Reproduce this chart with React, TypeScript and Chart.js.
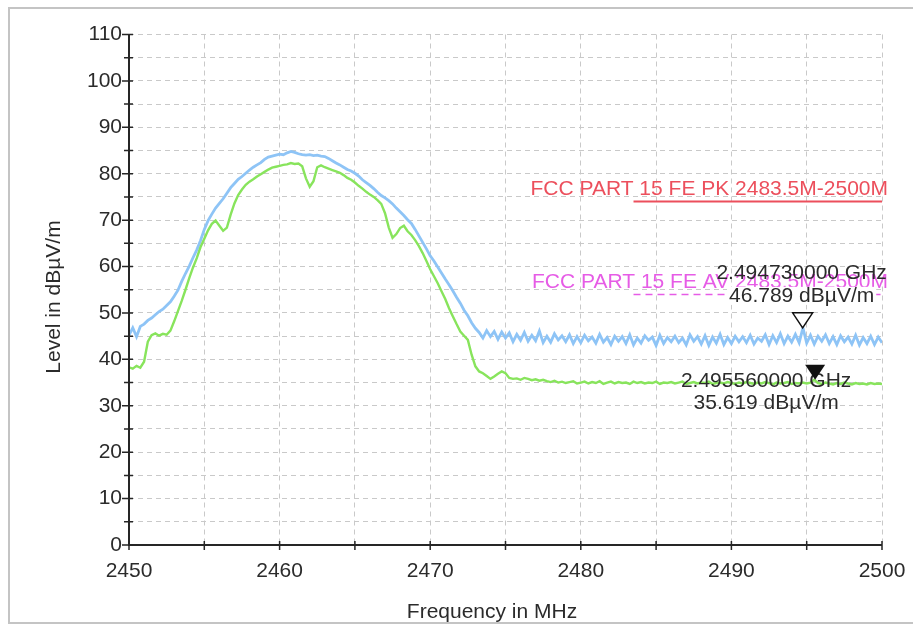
import { useEffect, useRef } from "react";
import { Chart, registerables } from "chart.js";
Chart.register(...registerables);

// Sweep: 2450 MHz to 2500 MHz, 0.25 MHz per point
const FREQ_START = 2450;
const FREQ_STEP = 0.25;

const peakLevels = [
  45.2, 46.8, 44.9, 47.1, 47.6, 48.4, 48.9, 49.6, 50.3, 50.8, 51.6, 52.4, 53.6, 54.9, 56.8, 58.5, 60.1, 61.9, 63.6, 65.6,
  68.0, 69.9, 71.3, 72.6, 73.6, 74.6, 75.8, 77.0, 77.9, 78.8, 79.4, 80.1, 80.8, 81.4, 81.9, 82.4, 83.1, 83.6, 83.8, 84.0,
  84.2, 84.1, 84.5, 84.8, 84.6, 84.3, 84.1, 84.0, 84.1, 83.9, 84.0, 83.8, 83.7, 83.3, 82.8, 82.3, 81.9, 81.4, 80.9, 80.6,
  80.1, 79.5, 78.7, 78.1, 77.5, 76.8, 76.0, 75.3, 74.8, 74.2, 73.5, 72.6, 71.8, 71.0, 70.1, 69.3, 68.0, 66.6, 65.2, 63.8,
  62.3, 61.2, 59.9, 58.6, 57.3, 56.1, 54.8, 53.4, 52.1, 50.6, 49.4, 47.9, 46.7, 45.8, 44.6, 46.2, 44.9, 46.0, 44.3, 45.9,
  44.6, 45.7, 43.8, 45.4, 44.1, 45.8, 43.9, 45.2, 44.0, 46.1, 43.6, 45.0, 43.7, 45.5, 44.2, 45.1, 43.8, 45.3, 43.4, 44.9,
  43.6, 45.2, 44.0, 44.8, 43.5, 45.4, 43.7, 44.7, 43.2, 45.0, 43.9, 44.9, 43.4, 45.3, 43.1, 44.6, 43.5, 45.1, 44.1, 44.8,
  43.0, 45.2, 43.4, 44.7, 43.8, 45.0, 43.6, 44.6, 43.1, 45.3, 43.9, 44.9, 43.3, 45.1, 43.0, 44.8, 43.5, 45.4, 43.2, 44.7,
  43.4, 45.0, 43.8, 44.9, 43.6, 45.2, 43.3, 44.6, 43.9, 45.3, 43.2, 45.1, 43.6, 45.5, 43.4, 45.0, 43.7, 45.4, 43.6, 46.8,
  43.5, 45.2, 43.3, 45.0, 43.9, 45.3, 43.4, 44.9, 43.2, 45.1, 43.8, 44.8, 43.3, 45.2, 43.1, 44.7, 43.4, 45.0, 43.2, 44.8, 43.6,
];

const avgLevels = [
  38.3, 38.0, 38.6, 38.2, 39.5, 43.8, 45.2, 45.6, 45.1, 45.5, 45.3, 46.2, 48.2, 50.4, 52.6, 55.0, 57.5, 59.8, 61.8, 64.2,
  66.0, 67.8, 69.2, 69.9, 68.8, 67.7, 68.4, 71.2, 73.6, 75.4, 76.6, 77.6, 78.3, 78.8, 79.4, 79.9, 80.4, 80.9, 81.3, 81.5,
  81.7, 81.9, 82.0, 82.3, 82.1, 82.2, 81.6, 79.0, 77.2, 78.4, 81.4, 81.8, 81.4, 81.1, 80.8, 80.5, 80.2, 79.7, 79.1, 78.7,
  78.1, 77.4, 76.8, 76.1, 75.5, 75.0, 74.3, 73.5, 71.5, 68.4, 66.2, 67.0, 68.3, 68.8, 67.6, 66.8, 65.7, 64.4, 62.9, 61.2,
  59.4, 57.9, 56.4, 54.7, 53.0, 51.0, 49.3, 47.6, 46.0, 45.1, 44.2, 41.0, 38.5, 37.4, 37.0, 36.4, 35.8, 36.3, 36.9, 37.4,
  37.0, 36.0, 35.8, 35.9, 35.6, 36.0, 35.8, 35.5, 35.7, 35.4, 35.6, 35.3, 35.1, 35.4, 35.0, 35.2, 34.9, 35.1, 35.3, 34.8,
  35.0, 35.2, 34.8, 35.1, 34.9, 35.3, 34.7, 35.0, 35.2, 34.8, 35.1, 34.9, 35.0, 34.7, 35.2, 34.9, 35.1, 34.8, 35.0, 34.9,
  35.2, 34.7, 35.0, 34.9, 35.1, 34.8, 35.0, 35.2, 34.7, 34.9, 35.1, 34.8, 35.0, 34.9, 35.2, 34.7, 34.9, 35.0, 34.8, 35.1,
  34.9, 34.7, 35.0, 34.8, 35.1, 34.9, 34.7, 35.0, 34.8, 35.1, 34.9, 34.6, 35.0, 34.8, 34.9, 35.1, 34.7, 34.9, 34.8, 35.0,
  34.8, 35.0, 35.6, 34.9, 34.7, 35.0, 34.8, 34.6, 34.9, 34.7, 35.0, 34.8, 34.6, 34.9, 34.7, 34.8, 34.6, 34.9, 34.7, 34.8, 34.7,
];

const limitNames = ["FCC PART 15 FE PK 2483.5M-2500M", "FCC PART 15 FE AV 2483.5M-2500M"];
const limitStart = [2483.5, 2483.5];
const limitEnd = [2500, 2500];
const limitLevels = [74, 54];

const markerFreqs = [2494.73, 2495.56];
const markerLevels = [46.789, 35.619];
const markerFilled = [false, true];

const X_MIN = 2450, X_MAX = 2500, X_STEP = 5;
const Y_MIN = 0, Y_MAX = 110, Y_STEP = 5;

const FONT = "'Liberation Sans', Arial, sans-serif";
const TEXT = "#2b2b2b";
const PEAK_COLOR = "#8ec4f6";
const AVG_COLOR = "#88e45c";
const PK_COLOR = "#ec4f5c";
const AV_COLOR = "#e65ce6";

export default function App() {
  const ref = useRef<HTMLCanvasElement | null>(null);
  useEffect(() => {
    if (!ref.current) return;
    const peakData = peakLevels.map((v, i) => ({ x: FREQ_START + i * FREQ_STEP, y: v }));
    const avgData = avgLevels.map((v, i) => ({ x: FREQ_START + i * FREQ_STEP, y: v }));

    const decor = {
      id: "decor",
      beforeDraw(chart: any) {
        const ctx = chart.ctx;
        ctx.save();
        ctx.strokeStyle = "#c4c4c4";
        ctx.lineWidth = 2;
        ctx.strokeRect(9, 8, 920, 615);
        ctx.restore();
      },
      afterDatasetsDraw(chart: any) {
        const ctx = chart.ctx;
        const xs = chart.scales.x, ys = chart.scales.y;
        const area = chart.chartArea;
        ctx.save();
        // limit labels
        ctx.font = `21px ${FONT}`;
        ctx.textAlign = "right";
        ctx.textBaseline = "middle";
        limitNames.forEach((name, i) => {
          ctx.fillStyle = i === 0 ? PK_COLOR : AV_COLOR;
          ctx.fillText(name, area.right + 6, ys.getPixelForValue(limitLevels[i]) - 12);
        });
        // markers
        markerFreqs.forEach((f, i) => {
          const mx = xs.getPixelForValue(f);
          const my = ys.getPixelForValue(markerLevels[i]);
          const l1 = (f / 1000).toFixed(9) + " GHz";
          const l2 = markerLevels[i].toFixed(3) + " dB\u00B5V/m";
          let cx: number, y1: number, y2: number;
          if (i === 0) { cx = mx - 1; y1 = my - 55; y2 = my - 32; }
          else { cx = mx - 49; y1 = my + 2; y2 = my + 24; }
          ctx.font = `21px ${FONT}`;
          ctx.textAlign = "center";
          ctx.textBaseline = "middle";
          if (i === 0) {
            const w = ctx.measureText(l2).width;
            ctx.fillStyle = "#ffffff";
            ctx.fillRect(cx - w / 2 - 2, y2 - 9, w + 4, 18);
          }
          ctx.fillStyle = TEXT;
          ctx.fillText(l1, cx, y1);
          ctx.fillText(l2, cx, y2);
          // triangle
          ctx.beginPath();
          ctx.moveTo(mx, my);
          ctx.lineTo(mx - 10, my - 15);
          ctx.lineTo(mx + 10, my - 15);
          ctx.closePath();
          if (markerFilled[i]) {
            ctx.fillStyle = "#111";
            ctx.fill();
          } else {
            ctx.fillStyle = "#fff";
            ctx.fill();
            ctx.strokeStyle = "#111";
            ctx.lineWidth = 1.5;
            ctx.stroke();
          }
        });
        // axes
        ctx.strokeStyle = "#262626";
        ctx.lineWidth = 2;
        ctx.beginPath();
        ctx.moveTo(area.left, area.top);
        ctx.lineTo(area.left, area.bottom);
        ctx.lineTo(area.right, area.bottom);
        ctx.stroke();
        ctx.lineWidth = 1.5;
        ctx.beginPath();
        for (let v = Y_MIN; v <= Y_MAX; v += Y_STEP) {
          const y = ys.getPixelForValue(v);
          const major = v % 10 === 0;
          ctx.moveTo(area.left - (major ? 7 : 5), y);
          ctx.lineTo(area.left + 4, y);
        }
        for (let v = X_MIN; v <= X_MAX; v += X_STEP) {
          const x = xs.getPixelForValue(v);
          ctx.moveTo(x, area.bottom - 4);
          ctx.lineTo(x, area.bottom + 5);
        }
        ctx.stroke();
        // titles
        ctx.fillStyle = TEXT;
        ctx.font = `21px ${FONT}`;
        ctx.textAlign = "center";
        ctx.textBaseline = "middle";
        ctx.fillText("Frequency in MHz", 492, 612);
        ctx.translate(54, 297);
        ctx.rotate(-Math.PI / 2);
        ctx.fillText("Level in dB\u00B5V/m", 0, 0);
        ctx.restore();
      },
    };

    const chart = new Chart(ref.current, {
      type: "line",
      data: {
        datasets: [
          { data: avgData, borderColor: AVG_COLOR, borderWidth: 2.4, pointRadius: 0, tension: 0 },
          { data: peakData, borderColor: PEAK_COLOR, borderWidth: 2.8, pointRadius: 0, tension: 0 },
          {
            data: [{ x: limitStart[0], y: limitLevels[0] }, { x: limitEnd[0], y: limitLevels[0] }],
            borderColor: PK_COLOR, borderWidth: 2, pointRadius: 0,
          },
          {
            data: [{ x: limitStart[1], y: limitLevels[1] }, { x: limitEnd[1], y: limitLevels[1] }],
            borderColor: AV_COLOR, borderWidth: 1.5, borderDash: [7, 5], pointRadius: 0,
          },
        ],
      },
      options: {
        animation: false,
        responsive: true,
        maintainAspectRatio: false,
        layout: { padding: { left: 0, top: 34.5, right: 31, bottom: 0 } },
        plugins: { legend: { display: false }, tooltip: { enabled: false } },
        scales: {
          x: {
            type: "linear",
            min: X_MIN,
            max: X_MAX,
            afterFit: (s: any) => { s.height = 81; s.paddingLeft = 0; s.paddingRight = 0; },
            grid: { color: "#c9c9c9", lineWidth: 1, drawTicks: false },
            border: { display: false, dash: [5, 4] },
            ticks: {
              stepSize: X_STEP,
              autoSkip: false,
              maxRotation: 0,
              padding: 14,
              color: TEXT,
              font: { family: FONT, size: 21 },
              callback: (v: any) => (Number(v) % 10 === 0 ? String(v) : ""),
            },
          },
          y: {
            type: "linear",
            min: Y_MIN,
            max: Y_MAX,
            afterFit: (s: any) => { s.width = 129; s.paddingTop = 0; s.paddingBottom = 0; },
            grid: { color: "#c9c9c9", lineWidth: 1, drawTicks: false },
            border: { display: false, dash: [5, 4] },
            ticks: {
              stepSize: Y_STEP,
              autoSkip: false,
              padding: 7,
              color: TEXT,
              font: { family: FONT, size: 21 },
              callback: (v: any) => (Number(v) % 10 === 0 ? String(v) : ""),
            },
          },
        },
      },
      plugins: [decor],
    });
    return () => chart.destroy();
  }, []);

  return (
    <div style={{ position: "absolute", left: 0, top: 0, width: 913, height: 626, background: "#fff" }}>
      <canvas ref={ref} />
    </div>
  );
}
